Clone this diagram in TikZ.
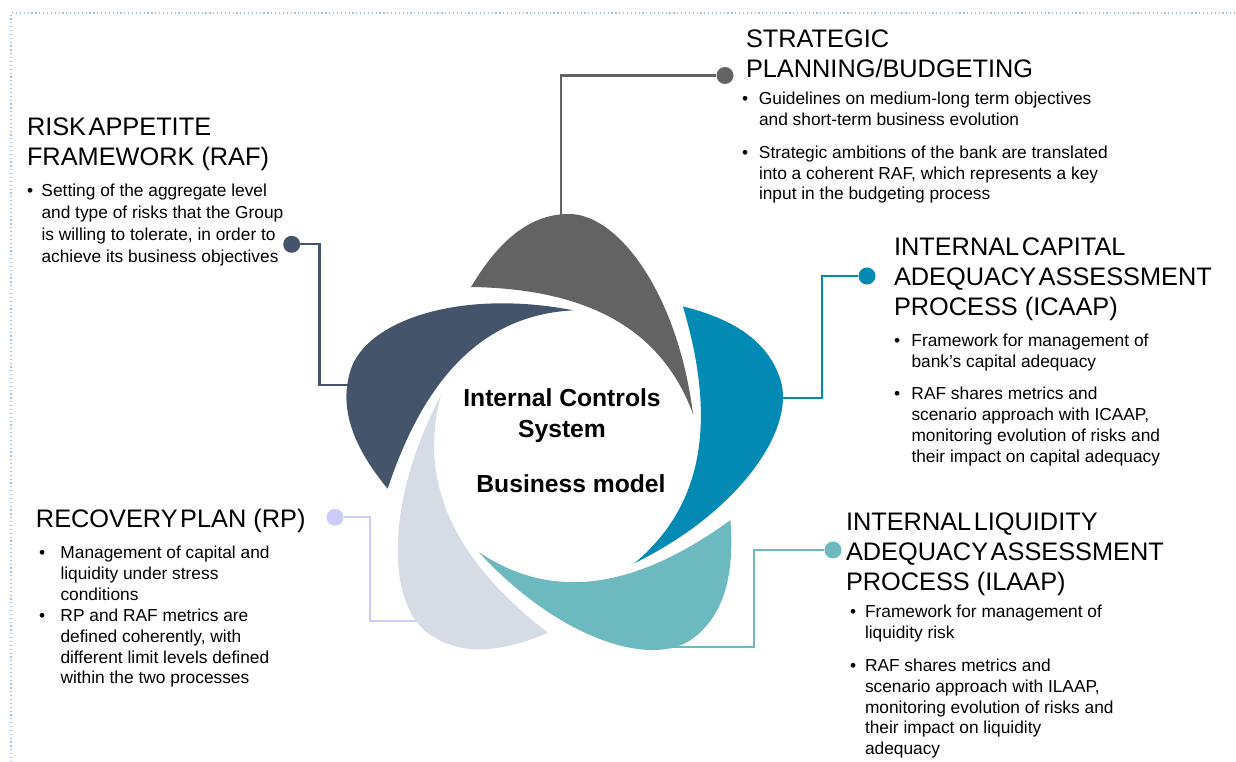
\documentclass[tikz,border=0pt]{standalone}
\usepackage{fontspec}
\setmainfont{Liberation Sans}
\definecolor{cgray}{HTML}{636363}
\definecolor{cteal}{HTML}{0289B4}
\definecolor{clteal}{HTML}{6CB9BF}
\definecolor{clgray}{HTML}{D6DCE5}
\definecolor{cslate}{HTML}{44546A}
\definecolor{clav}{HTML}{CCCCFA}
\definecolor{cborder}{HTML}{9DC3E6}
\newdimen\pxu \pxu=0.75pt
\newcommand\titlefont{\fontsize{19}{22.5}\selectfont\spaceskip=0.1em plus 0.05em}
\newcommand\nsp{\hspace{0.278em}}
\newcommand\bodyfont{\fontsize{13}{15.6}\selectfont}
\newcommand\rafbodyfont{\fontsize{13}{16.5}\selectfont}
\newcommand\centrefont{\fontsize{18.5}{23.25}\selectfont\bfseries}
\newcommand\lines[1]{\begin{tabular}[t]{@{}l@{}}#1\end{tabular}}
\newcommand\bitem[2]{\makebox[#1][l]{\textbullet}\lines{#2}}
\begin{document}
\begin{tikzpicture}[x=0.75pt,y=-0.75pt,
  txt/.style={inner sep=0pt, outer sep=0pt, anchor=base west, text=black},
  ttl/.style={txt, font=\titlefont},
  bod/.style={txt, font=\bodyfont},
  dotn/.style={circle, inner sep=0pt, minimum size=12.75pt, fill=#1},
  conn/.style={draw=#1, line width=1.6pt},
  petal/.style={fill=#1}
]
\useasboundingbox (0,0) rectangle (1236,762);
% border
\draw[cborder, dotted, line width=0.9pt] (11,762) -- (11,13) -- (1236,13);

% dots
\node[dotn=cgray] (sdot) at (725,75.5) {};
\node[dotn=cslate] (rdot) at (291.7,244.3) {};
\node[dotn=cteal] (idot) at (867,276) {};
\node[dotn=clteal] (ldot) at (833,550) {};
\node[dotn=clav] (pdot) at (335,517.3) {};

% connector ends (inside the petals)
\coordinate (sEnd) at (561,226);
\coordinate (rEnd) at (366,385);
\coordinate (iEnd) at (762,398);
\coordinate (lEnd) at (668,647);
\coordinate (pEnd) at (432,621);

\draw[conn=cgray] (sdot.west) -| (sEnd);
\draw[conn=cslate] (rdot.east) -- ++(19,0) |- (rEnd);
\draw[conn=cteal] (idot.west) -- ++(-36.5,0) |- (iEnd);
\draw[conn=clteal] (ldot.west) -- ++(-70.5,0) |- (lEnd);
\draw[conn=clav] (pdot.east) -- ++(26,0) |- (pEnd);

% petals
\foreach \k/\c in {0/cgray,1/cteal,2/clteal,3/clgray,4/cslate}{
  \path[petal=\c, shift={(564,447)}, xscale=0.97, rotate=-72*\k, xscale=1/0.97]
    (-93,-160) .. controls (-62,-212) and (-30,-233) .. (5,-233)
    .. controls (55,-233) and (114,-152) .. (129,-33)
    .. controls (102,-106) and (40,-158) .. cycle;
}

% centre text
\node[inner sep=0pt, anchor=base, font=\centrefont] (ics) at (562,406.7)
  {\begin{tabular}[t]{@{}c@{}}Internal Controls\\System\end{tabular}};
\node[inner sep=0pt, anchor=base, font=\centrefont] (bm) at (571,492.7) {Business model};

% strategic planning
\node[ttl] (st) at (746,47.3) {\lines{STRATEGIC\\PLANNING/BUDGETING}};
\node[bod] (sb1) at (742,105) {\bitem{17\pxu}{Guidelines on medium-long term objectives\\and short-term business evolution}};
\node[bod] (sb2) at (742,158.3) {\bitem{17\pxu}{Strategic ambitions of the bank are translated\\into a coherent RAF, which represents a key\\input in the budgeting process}};

% RAF
\node[ttl] (rt) at (27,135.5) {\lines{RISK APPETITE\\FRAMEWORK\nsp(RAF)}};
\node[bod, font=\rafbodyfont] (rb) at (27,197) {\bitem{14.5\pxu}{Setting of the aggregate level\\and type of risks that the Group\\is willing to tolerate, in order to\\achieve its business objectives}};

% ICAAP
\node[ttl] (it) at (894,256) {\lines{INTERNAL CAPITAL\\ADEQUACY ASSESSMENT\\PROCESS\nsp(ICAAP)}};
\node[bod] (ib1) at (894,346.7) {\bitem{17.5\pxu}{Framework for management of\\bank’s capital adequacy}};
\node[bod] (ib2) at (894,400) {\bitem{17.5\pxu}{RAF shares metrics and\\scenario approach with ICAAP,\\monitoring evolution of risks and\\their impact on capital adequacy}};

% ILAAP
\node[ttl] (lt) at (846,530.5) {\lines{INTERNAL LIQUIDITY\\ADEQUACY ASSESSMENT\\PROCESS\nsp(ILAAP)}};
\node[bod] (lb1) at (850,617.5) {\bitem{15\pxu}{Framework for management of\\liquidity risk}};
\node[bod] (lb2) at (850,671.5) {\bitem{15\pxu}{RAF shares metrics and\\scenario approach with ILAAP,\\monitoring evolution of risks and\\their impact on liquidity\\adequacy}};

% RP
\node[ttl] (pt) at (36,527.5) {RECOVERY PLAN\nsp(RP)};
\node[bod] (pb1) at (39,558.5) {\bitem{21.5\pxu}{Management of capital and\\liquidity under stress\\conditions}};
\node[bod] (pb2) at (39,621.5) {\bitem{21.5\pxu}{RP and RAF metrics are\\defined coherently, with\\different limit levels defined\\within the two processes}};
\end{tikzpicture}
\end{document}
